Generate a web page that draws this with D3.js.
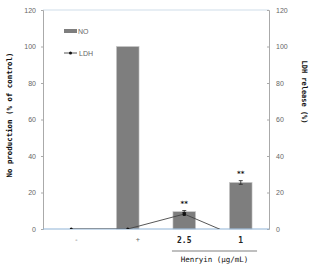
<!DOCTYPE html>
<html><head><meta charset="utf-8">
<script src="https://cdn.jsdelivr.net/npm/d3@7"></script>
<style>body{margin:0;background:#fff}svg{display:block}</style>
</head><body>
<svg id="c" width="313" height="265"></svg>
<script>
const categories = ['-', '+', '2.5', '1'];
const noValues = [0, 100, 9.5, 25.5];
const noErrors = [0, 0, 0.6, 1];
const ldhValues = [0, 0, 8.2, -5];
const ldhErrors = [0, 0, 1, 0];
const significance = ['', '', '**', '**'];
const yTicks = [0, 20, 40, 60, 80, 100, 120];

const svg = d3.select('#c');
const m = {l: 43, r: 44, t: 10, b: 36};
const W = 313, H = 265;
const x = d3.scaleBand().domain(categories).range([m.l, W - m.r]).paddingInner(0.6).paddingOuter(0.3);
const y = d3.scaleLinear().domain([0, 120]).range([H - m.b, m.t]);
const y2 = d3.scaleLinear().domain([0, 120]).range([H - m.b, m.t]);

svg.append('defs').append('clipPath').attr('id', 'clip')
  .append('rect').attr('x', m.l).attr('y', m.t).attr('width', W - m.l - m.r).attr('height', H - m.t - m.b);

// top border
svg.append('line').attr('x1', m.l).attr('x2', W - m.r).attr('y1', m.t).attr('y2', m.t)
  .attr('stroke', '#cfdde9').attr('stroke-width', 1);

const tickFont = g => g.selectAll('text').attr('font-family', 'Liberation Sans Narrow, Liberation Sans, Arial, sans-serif')
  .attr('font-size', 7).attr('fill', '#666');

const yl = svg.append('g').attr('transform', `translate(${m.l},0)`)
  .call(d3.axisLeft(y).tickValues(yTicks).tickSize(2).tickPadding(5));
yl.select('.domain').attr('stroke', '#aaa');
yl.selectAll('.tick line').attr('stroke', '#aaa');
yl.call(tickFont);

const yr = svg.append('g').attr('transform', `translate(${W - m.r},0)`)
  .call(d3.axisRight(y2).tickValues(yTicks).tickSize(-2).tickPadding(7));
yr.select('.domain').attr('stroke', '#aaa');
yr.selectAll('.tick line').attr('stroke', '#aaa');
yr.call(tickFont);

// bars
svg.append('g').selectAll('rect').data(categories).join('rect')
  .attr('x', d => x(d)).attr('width', x.bandwidth())
  .attr('y', (d, i) => y(noValues[i])).attr('height', (d, i) => y(0) - y(noValues[i]))
  .attr('fill', '#7e7e7e').attr('stroke', '#c8c8c8').attr('stroke-width', 0.6);

// bar error bars
const eb = svg.append('g').attr('stroke', '#222').attr('stroke-width', 0.8);
categories.forEach((c, i) => {
  if (!noErrors[i]) return;
  const cx = x(c) + x.bandwidth() / 2;
  eb.append('line').attr('x1', cx).attr('x2', cx).attr('y1', y(noValues[i] - noErrors[i])).attr('y2', y(noValues[i] + noErrors[i]));
  [noValues[i] - noErrors[i], noValues[i] + noErrors[i]].forEach(v =>
    eb.append('line').attr('x1', cx - 2).attr('x2', cx + 2).attr('y1', y(v)).attr('y2', y(v)));
});

// bottom axis line
svg.append('line').attr('x1', m.l).attr('x2', W - m.r).attr('y1', y(0)).attr('y2', y(0))
  .attr('stroke', '#8fb3d6').attr('stroke-width', 1);

// LDH line
const cxOf = c => x(c) + x.bandwidth() / 2;
const lg = svg.append('g').attr('clip-path', 'url(#clip)');
lg.append('path').datum(categories)
  .attr('d', d3.line().x(c => cxOf(c)).y((c, i) => y2(ldhValues[i])))
  .attr('fill', 'none').attr('stroke', '#444').attr('stroke-width', 0.9);
lg.selectAll('circle').data(categories).join('circle')
  .attr('cx', c => cxOf(c)).attr('cy', (c, i) => y2(ldhValues[i])).attr('r', 1.5).attr('fill', '#111');
categories.forEach((c, i) => {
  if (!ldhErrors[i]) return;
  const cx = cxOf(c);
  lg.append('rect').attr('x', cx - 1.5).attr('width', 3)
    .attr('y', y2(ldhValues[i] + ldhErrors[i])).attr('height', y2(ldhValues[i] - ldhErrors[i]) - y2(ldhValues[i] + ldhErrors[i]))
    .attr('fill', '#111');
});

// significance
svg.append('g').selectAll('text').data(categories).join('text')
  .attr('x', c => cxOf(c))
  .attr('y', (c, i) => y(Math.max(noValues[i] + noErrors[i], ldhValues[i] + ldhErrors[i])) - 5)
  .attr('text-anchor', 'middle').attr('font-family', 'DejaVu Sans, sans-serif').attr('font-size', 7)
  .attr('font-weight', 'bold').attr('fill', '#111')
  .text((c, i) => significance[i]);

// x labels
const xa = svg.append('g').attr('transform', `translate(0,${y(0)})`)
  .call(d3.axisBottom(x).tickSize(0).tickPadding(8));
xa.select('.domain').remove();
xa.selectAll('text')
  .attr('font-family', 'DejaVu Sans Mono, monospace')
  .attr('font-size', (d, i) => i < 2 ? 7 : 8)
  .attr('font-weight', (d, i) => i < 2 ? 'normal' : 'bold')
  .attr('fill', (d, i) => i < 2 ? '#666' : '#222')
  .attr('dx', (d, i) => i === 0 ? 5 : i === 1 ? 10 : 0);

// group bracket and label
const gx1 = x(categories[2]) - 1, gx2 = x(categories[3]) + x.bandwidth() + 5;
svg.append('line').attr('x1', gx1).attr('x2', gx2).attr('y1', y(0) + 22).attr('y2', y(0) + 22)
  .attr('stroke', '#aaa').attr('stroke-width', 1.5);
svg.append('text').attr('x', (gx1 + gx2) / 2).attr('y', y(0) + 33).attr('text-anchor', 'middle')
  .attr('font-family', 'DejaVu Sans Mono, monospace').attr('font-size', 7.5).attr('fill', '#111')
  .text('Henryin (μg/mL)');

// axis titles
svg.append('text').attr('transform', `translate(12,115) rotate(-90)`).attr('text-anchor', 'middle')
  .attr('font-family', 'DejaVu Sans Mono, monospace').attr('font-size', 7.5).attr('font-weight', 'bold')
  .attr('fill', '#111').attr('textLength', 125).attr('lengthAdjust', 'spacingAndGlyphs')
  .text('No production (% of control)');
svg.append('text').attr('transform', `translate(302,92) rotate(90)`).attr('text-anchor', 'middle')
  .attr('font-family', 'DejaVu Sans Mono, monospace').attr('font-size', 7.5).attr('font-weight', 'bold')
  .attr('fill', '#111').attr('textLength', 63).attr('lengthAdjust', 'spacingAndGlyphs')
  .text('LDH release (%)');

// legend
const leg = svg.append('g');
leg.append('rect').attr('x', 64).attr('y', 29).attr('width', 13).attr('height', 4).attr('fill', '#7e7e7e');
leg.append('text').attr('x', 78).attr('y', 33.5).attr('font-family', 'Liberation Sans Narrow, Liberation Sans, sans-serif')
  .attr('font-size', 7).attr('fill', '#666').text('NO');
leg.append('line').attr('x1', 64).attr('x2', 77).attr('y1', 53).attr('y2', 53).attr('stroke', '#444').attr('stroke-width', 0.9);
leg.append('circle').attr('cx', 70.5).attr('cy', 53).attr('r', 1.5).attr('fill', '#111');
leg.append('text').attr('x', 79).attr('y', 55.5).attr('font-family', 'Liberation Sans Narrow, Liberation Sans, sans-serif')
  .attr('font-size', 7).attr('fill', '#666').text('LDH');
</script>
</body></html>
